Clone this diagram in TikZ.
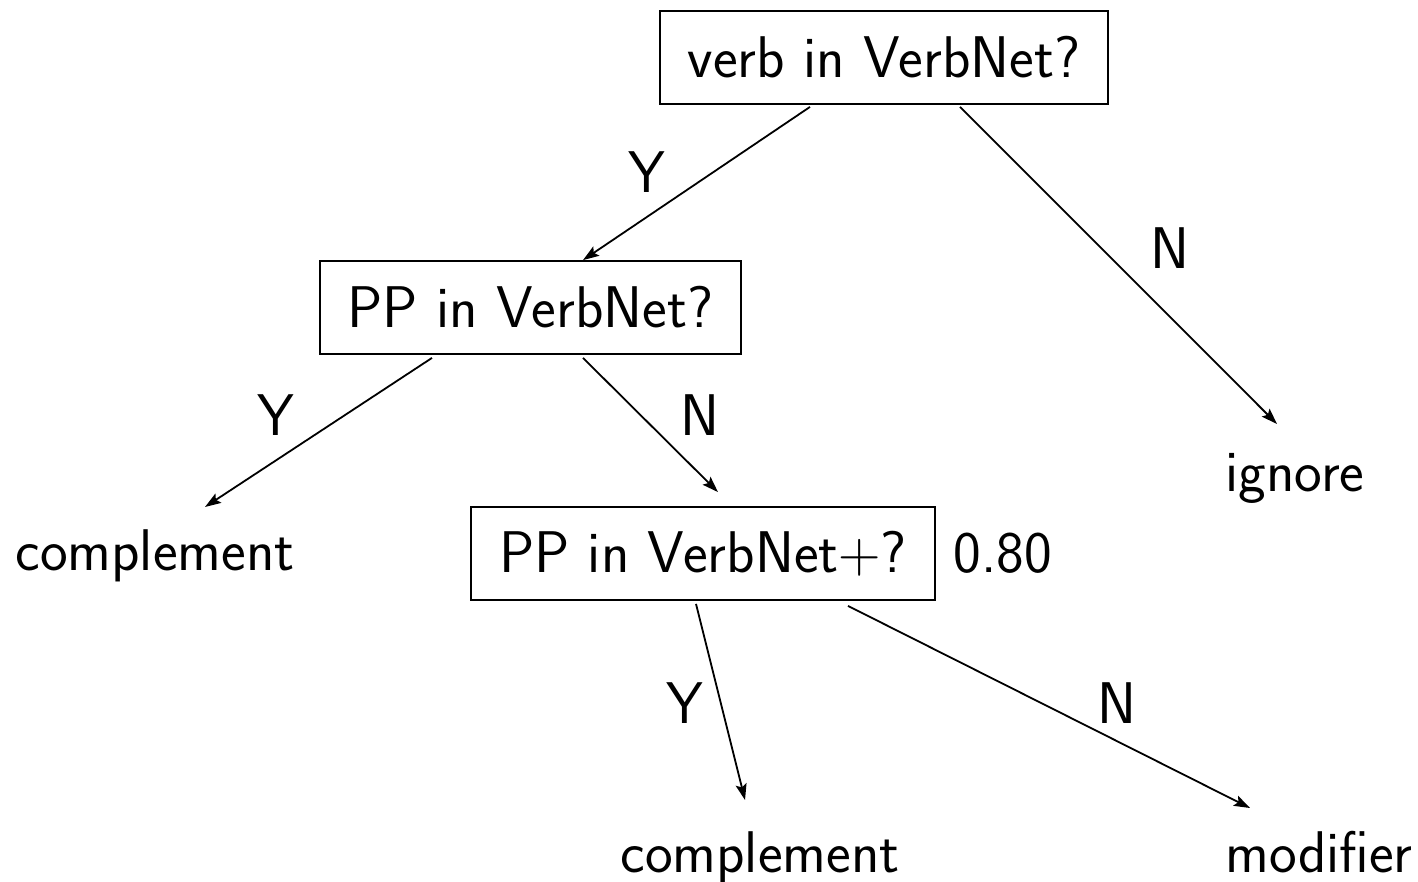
\RequirePackage{fix-cm}
\documentclass[tikz,border=0pt]{standalone}
\usetikzlibrary{arrows.meta,calc}
\begin{document}
\begin{tikzpicture}[x=0.5pt,y=-0.5pt,
  every node/.style={font=\sffamily\fontsize{29.4}{35}\selectfont},
  qbox/.style={draw,line width=0.9pt,minimum height=46.5pt,inner sep=0pt},
  leaf/.style={inner sep=0pt,anchor=base},
  lbl/.style={inner sep=0pt},
  arr/.style={line width=0.9pt,-{Stealth[length=8pt,width=5.5pt,inset=1.5pt]}}]
\useasboundingbox (0,0) rectangle (1418,882);
\node[qbox,minimum width=224pt] (b1) at (884,57.5) {verb in VerbNet?};
\node[qbox,minimum width=210.5pt] (b2) at (530.5,307.5) {PP in VerbNet?};
\node[qbox,minimum width=232pt] (b3) at (703,553.5) {PP in VerbNet$+$?};
\node[lbl] (score) at (1003,553) {0.80};
\node[leaf] (comp1) at (155,570) {complement};
\node[leaf] (ign) at (1295,491) {ignore};
\node[leaf] (comp2) at (760,872) {complement};
\node[leaf] (mod) at (1319,872) {modifier};
\draw[arr] ($(b1.south)+(-74,2)$) -- ($(b2.north)+(52.5,0)$);
\draw[arr] ($(b1.south)+(76,2)$) -- ($(ign.base)+(-18,-67)$);
\draw[arr] ($(b2.south)+(-98.5,3)$) -- ($(comp1.base)+(50,-63)$);
\draw[arr] ($(b2.south)+(52.5,3)$) -- ($(b3.north)+(15,-14)$);
\draw[arr] ($(b3.south)+(-7,3)$) -- ($(comp2.base)+(-15,-72)$);
\draw[arr] ($(b3.south)+(145,5)$) -- ($(mod.base)+(-69,-64)$);
\node[lbl] (y1) at (647,172) {Y};
\node[lbl] (n1) at (1170,248) {N};
\node[lbl] (y2) at (276,415) {Y};
\node[lbl] (n2) at (700,415) {N};
\node[lbl] (y3) at (685,703) {Y};
\node[lbl] (n3) at (1117,703) {N};
\end{tikzpicture}
\end{document}
